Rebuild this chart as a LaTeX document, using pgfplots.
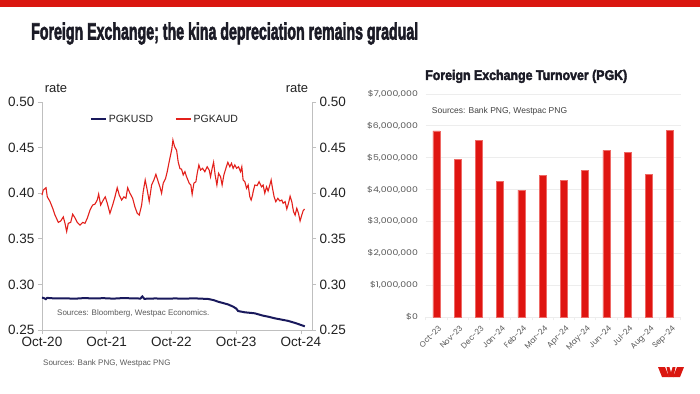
\documentclass[border=0pt]{standalone}
\usepackage{pgfplots}
\pgfplotsset{compat=1.18}
\usepackage{fontspec}
\usepackage{graphicx}
\setmainfont{Liberation Sans}
\newfontfamily\titlefont{Liberation Sans}[FakeBold=3]
\newfontfamily\chartfont{Poppins}[FakeStretch=1.2]
\newfontfamily\chartfontx{Poppins}
\definecolor{wred}{HTML}{DA1710}
\definecolor{barred}{HTML}{DF1511}
\definecolor{baredge}{HTML}{EE6A66}
\definecolor{linered}{HTML}{E3201B}
\definecolor{navy}{HTML}{19195C}
\definecolor{axisgray}{HTML}{BFBFBF}
\definecolor{gridgray}{HTML}{EDEDED}
\definecolor{labelcol}{HTML}{222222}
\definecolor{srcgray}{HTML}{595959}
\definecolor{titlecol}{HTML}{1B1B26}
\begin{document}
\begin{tikzpicture}[x=1pt,y=1pt]
\path[use as bounding box, fill=white] (0,0) rectangle (700,-393);
\fill[wred] (0,0) rectangle (700,-7.5);
\node[anchor=base west, inner sep=0, text=titlecol] at (31,-39.5)
  {\resizebox{387pt}{\height}{\titlefont\bfseries\fontsize{23.5}{24}\selectfont Foreign Exchange; the kina depreciation remains gradual}};
% ---------------- left chart ----------------
\begin{axis}[
  at={(42pt,-330pt)}, anchor=south west, scale only axis,
  width=270pt, height=228pt,
  xmin=0, xmax=4.17, ymin=0.25, ymax=0.50,
  axis x line*=bottom, axis y line*=left,
  axis line style={draw=axisgray, line width=0.8pt, -},
  xtick={0,1,2,3,4},
  xticklabels={Oct-20,Oct-21,Oct-22,Oct-23,Oct-24},
  ytick={0.25,0.30,0.35,0.40,0.45,0.50},
  yticklabels={0.25,0.30,0.35,0.40,0.45,0.50},
  tick align=outside, major tick length=4pt,
  tick style={draw=axisgray, line width=0.8pt},
  ticklabel style={font=\fontsize{13.5}{14}\selectfont, text=labelcol},
  legend style={draw=none, fill=none, at={(0.456,0.925)}, anchor=center,
    font=\fontsize{10.5}{11}\selectfont, text=labelcol,
    /tikz/every even column/.append style={column sep=20pt}},
  legend columns=2,
  legend image code/.code={\draw[#1, line width=1.6pt] (0pt,0pt) -- (15pt,0pt);},
  clip=false,
]
\addplot[navy, line width=2pt] coordinates {
(0.000,0.2855) (0.030,0.2850) (0.060,0.2838) (0.080,0.2852) (0.200,0.2846)
(0.350,0.2848) (0.500,0.2843) (0.650,0.2850) (0.800,0.2846) (0.950,0.2849)
(1.100,0.2844) (1.250,0.2850) (1.400,0.2847) (1.520,0.2845) (1.550,0.2868)
(1.580,0.2842) (1.750,0.2846) (1.900,0.2843) (2.050,0.2846) (2.200,0.2844)
(2.350,0.2847) (2.450,0.2844) (2.566,0.2840) (2.650,0.2828) (2.721,0.2810)
(2.800,0.2795) (2.875,0.2780) (2.952,0.2756) (3.000,0.2735) (3.029,0.2708)
(3.133,0.2694) (3.287,0.2683) (3.415,0.2657) (3.500,0.2645) (3.596,0.2628)
(3.700,0.2614) (3.801,0.2600) (3.920,0.2575) (4.032,0.2547) (4.059,0.2540)
};
\addlegendentry{PGKUSD}
\addplot[linered, line width=1.1pt] coordinates {
(0.000,0.398) (0.020,0.4035) (0.062,0.406) (0.082,0.396) (0.123,0.391)
(0.165,0.3835) (0.201,0.376) (0.252,0.368) (0.289,0.3695) (0.329,0.374)
(0.355,0.367) (0.381,0.358) (0.406,0.367) (0.443,0.368) (0.474,0.377)
(0.509,0.373) (0.545,0.368) (0.586,0.365) (0.628,0.368) (0.664,0.367)
(0.699,0.3725) (0.741,0.3815) (0.782,0.387) (0.818,0.388) (0.853,0.3925)
(0.875,0.399) (0.906,0.387) (0.946,0.3925) (0.977,0.396) (1.008,0.389)
(1.049,0.378) (1.091,0.387) (1.127,0.396) (1.162,0.406) (1.193,0.398)
(1.230,0.3925) (1.265,0.396) (1.296,0.3945) (1.323,0.406) (1.358,0.400)
(1.400,0.3945) (1.435,0.385) (1.471,0.378) (1.502,0.376) (1.539,0.387)
(1.563,0.4017) (1.594,0.4145) (1.625,0.4035) (1.656,0.391) (1.693,0.409)
(1.728,0.4145) (1.759,0.4207) (1.795,0.4126) (1.821,0.407) (1.847,0.400)
(1.872,0.411) (1.909,0.4163) (1.934,0.4236) (1.964,0.4345) (1.986,0.4419)
(2.006,0.449) (2.022,0.4583) (2.048,0.451) (2.079,0.447) (2.103,0.4345)
(2.130,0.427) (2.156,0.4263) (2.181,0.420) (2.207,0.4236) (2.233,0.418)
(2.273,0.411) (2.299,0.409) (2.319,0.3988) (2.346,0.411) (2.377,0.4126)
(2.397,0.4218) (2.423,0.431) (2.449,0.4254) (2.480,0.4273) (2.515,0.4236)
(2.551,0.429) (2.582,0.4254) (2.603,0.418) (2.628,0.4273) (2.650,0.4339)
(2.674,0.420) (2.701,0.409) (2.727,0.4218) (2.758,0.418) (2.782,0.409)
(2.809,0.420) (2.840,0.4273) (2.870,0.4339) (2.901,0.429) (2.927,0.4328)
(2.952,0.4273) (2.978,0.431) (3.005,0.4273) (3.035,0.429) (3.066,0.4236)
(3.086,0.429) (3.106,0.4145) (3.133,0.4126) (3.159,0.4054) (3.184,0.409)
(3.210,0.396) (3.230,0.3925) (3.252,0.398) (3.261,0.4017) (3.287,0.409)
(3.323,0.4083) (3.353,0.4126) (3.390,0.407) (3.415,0.409) (3.441,0.400)
(3.468,0.407) (3.492,0.4024) (3.519,0.409) (3.539,0.4145) (3.560,0.4054)
(3.585,0.396) (3.611,0.3907) (3.642,0.3944) (3.673,0.3915) (3.704,0.3925)
(3.724,0.389) (3.755,0.3907) (3.781,0.3827) (3.807,0.389) (3.832,0.3967)
(3.858,0.3907) (3.884,0.380) (3.909,0.376) (3.935,0.3834) (3.961,0.378)
(3.986,0.3695) (4.012,0.376) (4.032,0.3805) (4.054,0.3827)
};
\addlegendentry{PGKAUD}
\end{axis}
\begin{axis}[
  at={(42pt,-330pt)}, anchor=south west, scale only axis,
  width=270pt, height=228pt,
  xmin=0, xmax=4.17, ymin=0.25, ymax=0.50,
  axis x line=none, axis y line*=right,
  axis line style={draw=axisgray, line width=0.8pt, -},
  ytick={0.25,0.30,0.35,0.40,0.45,0.50},
  yticklabels={0.25,0.30,0.35,0.40,0.45,0.50},
  tick align=outside, major tick length=4pt,
  tick style={draw=axisgray, line width=0.8pt},
  ticklabel style={font=\fontsize{13.5}{14}\selectfont, text=labelcol},
]
\addplot[draw=none] coordinates {(1,0.3)};
\end{axis}
\node[anchor=base, font=\fontsize{13}{13}\selectfont, text=labelcol] at (56,-92.7) {rate};
\node[anchor=base, font=\fontsize{13}{13}\selectfont, text=labelcol] at (297,-92.7) {rate};
\node[anchor=base west, inner sep=0, font=\fontsize{8}{9}\selectfont, text=srcgray] at (57,-315) {Sources: Bloomberg, Westpac Economics.};
\node[anchor=base west, inner sep=0, font=\fontsize{8}{9}\selectfont, text=srcgray] at (43,-365) {Sources: Bank PNG, Westpac PNG};
% ---------------- right chart ----------------
\node[anchor=base west, inner sep=0, text=titlecol] at (425,-80)
  {\resizebox{202pt}{\height}{\titlefont\bfseries\fontsize{14}{14}\selectfont Foreign Exchange Turnover (PGK)}};
\begin{axis}[
  at={(425.7pt,-317pt)}, anchor=south west, scale only axis,
  width=255pt, height=223pt,
  xmin=-0.5, xmax=11.5, ymin=0, ymax=7000000,
  axis x line*=bottom, axis y line*=left,
  x axis line style={draw=gridgray, line width=0.8pt, -},
  y axis line style={draw=none},
  ytick={0,1000000,2000000,3000000,4000000,5000000,6000000,7000000},
  yticklabels={{\$0},{\$1,000,000},{\$2,000,000},{\$3,000,000},{\$4,000,000},{\$5,000,000},{\$6,000,000},{\$7,000,000}},
  scaled y ticks=false,
  ymajorgrids, grid style={draw=gridgray, line width=0.8pt},
  ytick style={draw=none},
  xtick={0,...,11},
  xticklabels={Oct-23,Nov-23,Dec-23,Jan-24,Feb-24,Mar-24,Apr-24,May-24,Jun-24,Jul-24,Aug-24,Sep-24},
  minor xtick={-0.5,0.5,...,11.5},
  tick align=outside,
  major x tick style={draw=none},
  minor tick length=3pt,
  minor x tick style={draw=gridgray, line width=0.8pt},
  yticklabel style={font=\chartfont\fontsize{7.8}{8}\selectfont, text=srcgray},
  xticklabel style={font=\chartfontx\fontsize{7.8}{8}\selectfont, text=srcgray, rotate=45, anchor=north east, xshift=2pt},
]
\addplot[ybar, bar width=7pt, fill=barred, draw=baredge, line width=0.5pt] coordinates {
(0,5840000) (1,4950000) (2,5550000) (3,4250000) (4,3980000) (5,4440000)
(6,4280000) (7,4600000) (8,5230000) (9,5160000) (10,4480000) (11,5850000)
};
\end{axis}
\node[anchor=base west, inner sep=0, font=\fontsize{8.5}{9}\selectfont, text=labelcol!85] at (431.7,-113.3) {Sources: Bank PNG, Westpac PNG};
% logo
\fill[wred] (658,-367) -- (665,-367) -- (669,-377) -- (662,-377) -- cycle;
\fill[wred] (666.5,-367) -- (675.5,-367) -- (673.5,-377) -- (668.5,-377) -- cycle;
\fill[white] (669.5,-367) -- (672.5,-367) -- (671,-372) -- cycle;
\fill[wred] (677,-367) -- (684,-367) -- (680,-377) -- (673,-377) -- cycle;
\end{tikzpicture}
\end{document}
